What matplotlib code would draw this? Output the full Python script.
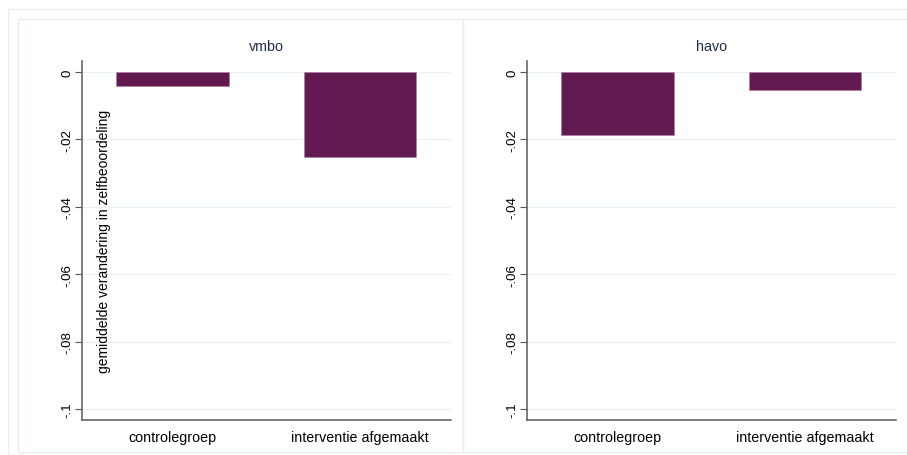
import matplotlib
matplotlib.use("Agg")
import matplotlib.pyplot as plt
from matplotlib.patches import Rectangle

plt.rcParams['font.family'] = ['Liberation Sans', 'DejaVu Sans']

# mean change in self-assessment per school level
groups = ["controlegroep", "interventie afgemaakt"]
panels = ["vmbo", "havo"]
vmbo_vals = [-0.0042, -0.0252]
havo_vals = [-0.0187, -0.0053]
values = [vmbo_vals, havo_vals]
yticks = [0, -0.02, -0.04, -0.06, -0.08, -0.1]
ytick_labels = ["0", "-.02", "-.04", "-.06", "-.08", "-.1"]

W, H = 907, 456
bar_color = "#621b51"
grid_color = "#e9f1f2"
frame_color = "#e6eef0"

fig = plt.figure(figsize=(W / 100, H / 100), dpi=100)

# outer graph region and the two panel frames
fig.patches.append(Rectangle((8 / W, 0), 1, 1 - 10 / H, transform=fig.transFigure,
                             fill=False, edgecolor=frame_color, lw=1))
for x0, x1 in [(18, 463), (463, 920)]:
    fig.patches.append(Rectangle((x0 / W, 3 / H), (x1 - x0) / W, 1 - 23 / H,
                                 transform=fig.transFigure, fill=False,
                                 edgecolor=frame_color, lw=1))

def px_axes(left, top, right, bottom):
    return fig.add_axes([left / W, 1 - bottom / H, (right - left) / W, (bottom - top) / H])

axes = [px_axes(82, 62, 451, 421), px_axes(527, 62, 896, 421)]

for ax, name, vals in zip(axes, panels, values):
    ax.bar(range(len(groups)), vals, width=0.6, color=bar_color,
           edgecolor="#b07aa4", linewidth=0.4, zorder=3)
    ax.set_xlim(-0.482, 1.486)
    ax.set_ylim(-0.1033, 0.0033)
    ax.set_yticks(yticks)
    ax.set_yticklabels(ytick_labels, rotation=90, va="center", fontsize=9.5)
    ax.set_xticks(range(len(groups)))
    ax.set_xticklabels(groups, fontsize=10.3)
    ax.tick_params(axis="x", length=0, pad=7)
    ax.tick_params(axis="y", length=5, width=0.8, color="#555555", pad=1)
    ax.grid(axis="y", color=grid_color, lw=0.9, zorder=0)
    for side in ["top", "right"]:
        ax.spines[side].set_visible(False)
    for side in ["left", "bottom"]:
        ax.spines[side].set_color("#666666")
        ax.spines[side].set_linewidth(1.2)
    ax.set_title(name, fontsize=10.3, color="#1f2e45", pad=8)

axes[0].text(0.06, 0.5, "gemiddelde verandering in zelfbeoordeling",
             transform=axes[0].transAxes, rotation=90, ha="center", va="center",
             fontsize=10)

fig.savefig("out.png", dpi=100, facecolor="white")
